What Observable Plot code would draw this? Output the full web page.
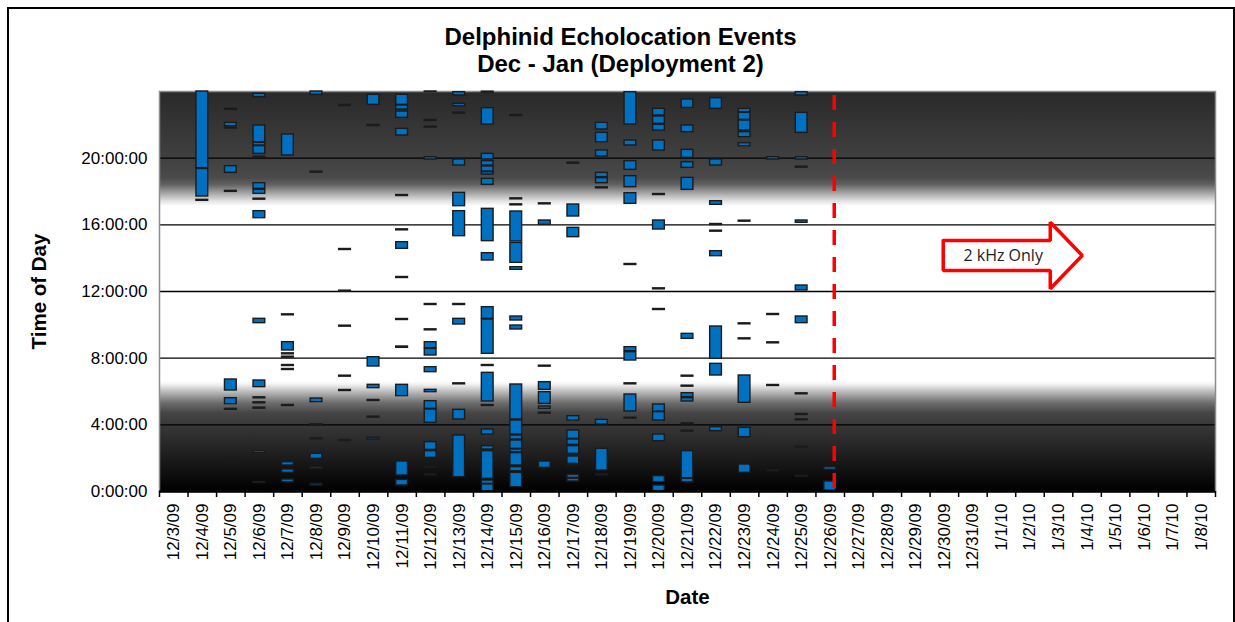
<!DOCTYPE html>
<html><head><meta charset="utf-8">
<script src="https://cdn.jsdelivr.net/npm/d3@7"></script>
<script src="https://cdn.jsdelivr.net/npm/@observablehq/plot@0.6"></script>
<style>
body{margin:0;background:#fff;}
#wrap{position:relative;width:1235px;height:622px;overflow:hidden;font-family:"Liberation Sans",Arial,sans-serif;}
#border{position:absolute;left:7px;top:7px;width:1224px;height:700px;border:2px solid #000;box-shadow:1px 1px 0 #aaa;}
#title{position:absolute;left:8px;width:1225px;top:23px;text-align:center;font-weight:bold;font-size:24px;line-height:27px;color:#000;}
#chart{position:absolute;left:0;top:0;}
#chart svg [aria-label="y-axis label"] text, #chart svg [aria-label="x-axis label"] text{font-weight:bold;font-size:20.5px !important;}
#chart svg [aria-label$="tick label"] text{font-size:17px !important;}
</style></head><body>
<div id="wrap"><div id="border"></div><div id="chart"></div><div id="title">Delphinid Echolocation Events<br>Dec - Jan (Deployment 2)</div></div>
<script>
const dateLabels = ["12/3/09","12/4/09","12/5/09","12/6/09","12/7/09","12/8/09","12/9/09","12/10/09","12/11/09","12/12/09","12/13/09","12/14/09","12/15/09","12/16/09","12/17/09","12/18/09","12/19/09","12/20/09","12/21/09","12/22/09","12/23/09","12/24/09","12/25/09","12/26/09","12/27/09","12/28/09","12/29/09","12/30/09","12/31/09","1/1/10","1/2/10","1/3/10","1/4/10","1/5/10","1/6/10","1/7/10","1/8/10"];

// [date, start hour, end hour]
const events = [
["12/4/09",19.4,24.0],["12/4/09",17.7,19.35],["12/4/09",17.44,17.5],
["12/5/09",22.9,22.96],["12/5/09",21.92,22.12],["12/5/09",21.78,21.84],["12/5/09",19.12,19.52],["12/5/09",17.98,18.04],["12/5/09",6.06,6.72],["12/5/09",5.24,5.6],["12/5/09",4.9,4.96],["12/5/09",1.98,2.04],
["12/6/09",23.66,23.86],["12/6/09",20.96,21.96],["12/6/09",20.76,20.92],["12/6/09",20.26,20.72],["12/6/09",20.03,20.09],["12/6/09",18.16,18.5],["12/6/09",17.86,18.1],["12/6/09",17.51,17.57],["12/6/09",16.4,16.82],["12/6/09",10.1,10.36],["12/6/09",6.26,6.66],["12/6/09",5.59,5.65],["12/6/09",5.29,5.35],["12/6/09",4.97,5.03],["12/6/09",2.3,2.42],["12/6/09",0.51,0.57],
["12/7/09",20.16,21.42],["12/7/09",10.57,10.63],["12/7/09",8.46,8.96],["12/7/09",8.23,8.29],["12/7/09",8.03,8.09],["12/7/09",7.53,7.59],["12/7/09",7.29,7.35],["12/7/09",5.13,5.19],["12/7/09",1.97,2.03],["12/7/09",1.56,1.76],["12/7/09",1.12,1.32],["12/7/09",0.56,0.72],
["12/8/09",23.8,24],["12/8/09",19.13,19.19],["12/8/09",5.36,5.58],["12/8/09",3.97,4.03],["12/8/09",3.13,3.19],["12/8/09",1.96,2.26],["12/8/09",1.36,1.46],["12/8/09",0.36,0.46],
["12/9/09",23.13,23.19],["12/9/09",14.49,14.55],["12/9/09",11.99,12.05],["12/9/09",9.89,9.95],["12/9/09",6.89,6.95],["12/9/09",6.03,6.09],["12/9/09",3.03,3.09],
["12/10/09",23.2,23.8],["12/10/09",21.93,21.99],["12/10/09",7.5,8.06],["12/10/09",6.2,6.4],["12/10/09",5.43,5.49],["12/10/09",4.43,4.49],["12/10/09",3.12,3.22],
["12/11/09",23.2,23.8],["12/11/09",22.92,23.16],["12/11/09",22.42,22.8],["12/11/09",21.36,21.76],["12/11/09",17.73,17.79],["12/11/09",15.67,15.73],["12/11/09",14.56,14.96],["12/11/09",12.81,12.87],["12/11/09",10.29,10.35],["12/11/09",8.62,8.7],["12/11/09",5.72,6.4],["12/11/09",0.96,1.8],["12/11/09",0.36,0.7],
["12/12/09",23.97,24],["12/12/09",22.23,22.29],["12/12/09",21.83,21.89],["12/12/09",19.92,20.06],["12/12/09",11.19,11.25],["12/12/09",9.67,9.73],["12/12/09",8.6,8.96],["12/12/09",8.16,8.56],["12/12/09",7.16,7.46],["12/12/09",5.96,6.1],["12/12/09",4.96,5.42],["12/12/09",4.12,4.92],["12/12/09",2.5,2.96],["12/12/09",2.02,2.42],["12/12/09",1.43,1.49],["12/12/09",0.97,1.03],
["12/13/09",23.76,23.96],["12/13/09",23.12,23.26],["12/13/09",22.67,22.73],["12/13/09",19.56,19.92],["12/13/09",17.12,17.92],["12/13/09",15.32,16.82],["12/13/09",11.19,11.25],["12/13/09",10.02,10.36],["12/13/09",6.43,6.49],["12/13/09",4.32,4.9],["12/13/09",0.86,3.36],
["12/14/09",23.93,23.99],["12/14/09",22.02,23.0],["12/14/09",19.92,20.26],["12/14/09",19.56,19.82],["12/14/09",19.2,19.5],["12/14/09",19.02,19.16],["12/14/09",18.4,18.76],["12/14/09",15.02,16.96],["12/14/09",13.86,14.3],["12/14/09",10.36,11.06],["12/14/09",8.26,10.32],["12/14/09",7.53,7.59],["12/14/09",5.4,7.12],["12/14/09",5.13,5.19],["12/14/09",3.42,3.72],["12/14/09",2.52,2.72],["12/14/09",0.76,2.42],["12/14/09",0.46,0.66],["12/14/09",0,0.42],
["12/15/09",22.53,22.59],["12/15/09",17.53,17.59],["12/15/09",17.17,17.23],["12/15/09",15.0,16.8],["12/15/09",13.72,14.92],["12/15/09",13.3,13.46],["12/15/09",10.26,10.5],["12/15/09",9.72,9.96],["12/15/09",4.32,6.42],["12/15/09",3.42,4.26],["12/15/09",3.12,3.36],["12/15/09",2.56,3.06],["12/15/09",2.36,2.52],["12/15/09",1.56,2.3],["12/15/09",1.22,1.46],["12/15/09",0.26,1.12],
["12/16/09",17.23,17.29],["12/16/09",16.0,16.26],["12/16/09",7.49,7.55],["12/16/09",6.1,6.56],["12/16/09",5.26,5.96],["12/16/09",4.96,5.1],["12/16/09",4.67,4.73],["12/16/09",1.42,1.8],
["12/17/09",19.67,19.73],["12/17/09",16.5,17.22],["12/17/09",15.26,15.82],["12/17/09",4.26,4.52],["12/17/09",3.16,3.66],["12/17/09",2.8,3.12],["12/17/09",2.26,2.72],["12/17/09",1.66,2.1],["12/17/09",1.53,1.59],["12/17/09",0.82,1.0],["12/17/09",0.6,0.76],
["12/18/09",21.72,22.12],["12/18/09",20.96,21.52],["12/18/09",20.1,20.46],["12/18/09",18.86,19.12],["12/18/09",18.5,18.8],["12/18/09",18.19,18.25],["12/18/09",4.02,4.3],["12/18/09",1.26,2.56],["12/18/09",0.97,1.03],
["12/19/09",22.02,23.96],["12/19/09",20.76,21.06],["12/19/09",19.3,19.82],["12/19/09",18.26,18.92],["12/19/09",17.26,17.9],["12/19/09",13.59,13.65],["12/19/09",8.42,8.66],["12/19/09",7.86,8.36],["12/19/09",6.43,6.49],["12/19/09",4.8,5.82],["12/19/09",4.37,4.43],
["12/20/09",22.56,22.96],["12/20/09",22.06,22.5],["12/20/09",21.66,22.0],["12/20/09",20.46,21.06],["12/20/09",17.79,17.85],["12/20/09",15.72,16.26],["12/20/09",12.13,12.19],["12/20/09",10.89,10.95],["12/20/09",4.8,5.22],["12/20/09",4.26,4.76],["12/20/09",3.02,3.42],["12/20/09",0.56,0.92],["12/20/09",0.02,0.36],
["12/21/09",23.02,23.52],["12/21/09",21.56,21.96],["12/21/09",20.02,20.5],["12/21/09",19.42,19.76],["12/21/09",18.1,18.82],["12/21/09",9.16,9.46],["12/21/09",6.89,6.95],["12/21/09",6.29,6.35],["12/21/09",5.66,5.9],["12/21/09",5.4,5.6],["12/21/09",4.03,4.09],["12/21/09",3.59,3.65],["12/21/09",0.8,2.42],["12/21/09",0.56,0.76],
["12/22/09",22.96,23.6],["12/22/09",19.56,19.92],["12/22/09",17.2,17.42],["12/22/09",15.99,16.05],["12/22/09",15.59,15.65],["12/22/09",14.12,14.42],["12/22/09",7.96,9.9],["12/22/09",6.96,7.66],["12/22/09",3.62,3.86],
["12/23/09",22.76,22.96],["12/23/09",22.3,22.72],["12/23/09",21.66,22.26],["12/23/09",21.26,21.56],["12/23/09",20.72,20.9],["12/23/09",16.19,16.25],["12/23/09",10.03,10.09],["12/23/09",9.13,9.19],["12/23/09",5.32,6.96],["12/23/09",3.26,3.82],["12/23/09",1.12,1.62],
["12/24/09",19.92,20.06],["12/24/09",10.59,10.65],["12/24/09",8.89,8.95],["12/24/09",6.33,6.39],["12/24/09",1.21,1.27],
["12/25/09",23.76,23.96],["12/25/09",21.52,22.72],["12/25/09",19.92,20.06],["12/25/09",19.43,19.49],["12/25/09",16.12,16.26],["12/25/09",12.06,12.36],["12/25/09",10.1,10.5],["12/25/09",5.83,5.89],["12/25/09",4.59,4.65],["12/25/09",4.27,4.33],["12/25/09",2.63,2.69],["12/25/09",0.89,0.95],
["12/26/09",1.3,1.46],["12/26/09",0.06,0.6]
];

const yTicks = [0,4,8,12,16,20];
const yTickLabels = ["0:00:00","4:00:00","8:00:00","12:00:00","16:00:00","20:00:00"];
const gridHours = [4,8,12,16,20];

// day/night shading: hour -> grey
const shadeHours  = [0, 2, 4, 4.7, 5.3, 5.9, 6.4, 6.6, 17.1, 17.4, 17.9, 18.4, 18.8, 20, 24];
const shadeColors = ["#000000","#1c1c1c","#383838","#464646","#6e6e6e","#b4b4b4","#f2f2f2","#ffffff","#ffffff","#e2e2e2","#a2a2a2","#606060","#4a4a4a","#404040","#292929"];

// end of full-band recording
const cutoffDate = "12/26/09";
const cutoffHour = 15.4;

// annotation arrow (days after 12/3/09, hour of day)
const arrowDays  = [27.46, 31.21, 31.21, 32.33, 31.21, 31.21, 27.46, 27.46];
const arrowHours = [15.06, 15.06, 16.16, 14.16, 12.16, 13.26, 13.26, 15.06];
const noteText = "2 kHz Only";
const noteDay = 29.56, noteHour = 14.16;

const DAY = 864e5;
const parseLabel = s => { const [m,d,y] = s.split("/").map(Number); return new Date(Date.UTC(2000 + y, m - 1, d)); };
const days = dateLabels.map(parseLabel);
const x0 = days[0], xEnd = new Date(+days[days.length - 1] + DAY);
const rows = events.map(([d, s, e]) => ({x1: parseLabel(d), x2: new Date(+parseLabel(d) + DAY), y1: s, y2: e}));
const boundaries = days.concat([xEnd]);
const centers = days.map(d => new Date(+d + DAY / 2));
const labelOf = d => dateLabels[Math.floor((d - x0) / DAY)];
const cutoff = new Date(+parseLabel(cutoffDate) + cutoffHour / 24 * DAY);
const arrow = arrowDays.map((d, i) => ({x: new Date(+x0 + d * DAY), y: arrowHours[i]}));

function shading(index, scales, values, dims) {
  const g = d3.create("svg:g");
  const grad = g.append("defs").append("linearGradient")
    .attr("id", "nightShade").attr("gradientUnits", "userSpaceOnUse")
    .attr("x1", 0).attr("x2", 0).attr("y1", scales.y(0)).attr("y2", scales.y(24));
  shadeHours.forEach((h, i) => grad.append("stop").attr("offset", h / 24).attr("stop-color", shadeColors[i]));
  g.append("rect")
    .attr("x", scales.x(x0)).attr("y", scales.y(24))
    .attr("width", scales.x(xEnd) - scales.x(x0)).attr("height", scales.y(0) - scales.y(24))
    .attr("fill", "url(#nightShade)");
  return g.node();
}

const chart = Plot.plot({
  width: 1235, height: 622,
  marginLeft: 159, marginRight: 20, marginTop: 91, marginBottom: 131,
  style: {fontFamily: "'Liberation Sans', Arial, sans-serif", fontSize: "15.5px", background: "transparent", color: "#000", overflow: "visible"},
  x: {type: "utc", domain: [x0, xEnd]},
  y: {domain: [0, 24]},
  marks: [
    shading,
    Plot.ruleY(gridHours, {stroke: "#000", strokeWidth: 1.3}),
    Plot.frame({stroke: "#8c8c8c", strokeWidth: 1.5}),
    Plot.rect(rows, {x1: "x1", x2: "x2", y1: "y1", y2: "y2", insetLeft: 8.4, insetRight: 8.4, fill: "#0070C0", stroke: "#1b1b1b", strokeWidth: 1.4}),
    Plot.ruleY([0], {stroke: "#000", strokeWidth: 2.5}),
    Plot.ruleX([cutoff], {stroke: "#ff0000", strokeWidth: 3.5, strokeDasharray: "15,12", strokeDashoffset: -4}),
    Plot.line(arrow, {x: "x", y: "y", stroke: "#ff0000", strokeWidth: 3.5, fill: "#fff", strokeLinejoin: "miter"}),
    Plot.text([noteText], {x: () => new Date(+x0 + noteDay * DAY), y: () => noteHour, text: d => d, fontFamily: "'Open Sans', sans-serif", fontSize: 16, fill: "#222"}),
    Plot.axisX({ticks: boundaries, tickSize: 6, tickFormat: () => "", label: null, stroke: "#000", strokeWidth: 1.5}),
    Plot.axisX({ticks: centers, tickSize: 0, tickPadding: 12, tickRotate: -90, tickFormat: labelOf, label: "Date", labelArrow: "none", labelAnchor: "center", labelOffset: 112}),
    Plot.axisY({ticks: yTicks, tickSize: 0, tickPadding: 12, tickFormat: (d) => yTickLabels[yTicks.indexOf(d)], label: "Time of Day", labelArrow: "none", labelAnchor: "center", labelOffset: 128})
  ]
});
document.getElementById("chart").append(chart);
</script>
</body></html>
